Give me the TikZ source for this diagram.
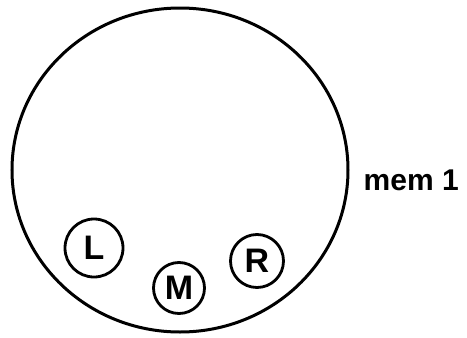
\documentclass[tikz,border=0pt]{standalone}
\usepackage{fontspec}
\setmainfont{Liberation Sans}
\usepackage{tikz}
\usetikzlibrary{shapes.geometric, positioning}

\begin{document}
\begin{tikzpicture}[
    x=1pt, y=-1pt,
    memory/.style={ellipse, draw=black, line width=3pt, minimum width=336pt, minimum height=324pt, inner sep=0pt},
    var/.style={circle, draw=black, line width=2.8pt, inner sep=0pt, font=\fontsize{34}{36}\selectfont\bfseries},
    tag/.style={font=\fontsize{30}{32}\selectfont\bfseries, inner sep=0pt}
]
    \useasboundingbox (0,0) rectangle (467,338);
    \node[memory] (mem) at (180,170) {};
    \node[tag, right=14pt of mem, yshift=-10pt] (memlabel) {mem 1};
    \node[var, minimum size=58pt] (l) at (94,248) {L};
    \node[var, minimum size=51pt] (m) at (179,288) {M};
    \node[var, minimum size=53pt] (r) at (257,261) {R};
\end{tikzpicture}
\end{document}
